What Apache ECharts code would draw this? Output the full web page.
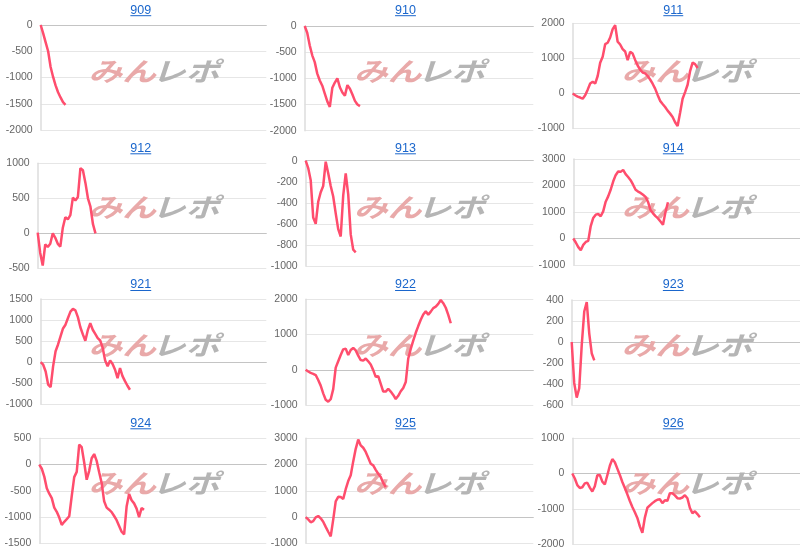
<!DOCTYPE html>
<html>
<head>
<meta charset="utf-8">
<script src="https://cdn.jsdelivr.net/npm/echarts@6/dist/echarts.min.js"></script>
<style>
html,body{margin:0;padding:0;background:#fff;}
#chart{width:800px;height:552px;}
</style>
</head>
<body>
<div id="chart"></div>
<script>
// ---- data ----
const machines = ['909','910','911','912','913','914','921','922','923','924','925','926'];
const STEPS = 91; // x-axis length (sample steps)

const s909 = [0,-160,-330,-500,-800,-990,-1150,-1280,-1380,-1470,-1520];
const s910 = [0,-130,-370,-560,-690,-910,-1040,-1140,-1290,-1440,-1545,-1180,-1080,-1000,-1170,-1270,-1330,-1130,-1200,-1310,-1430,-1500,-1530];
const s911 = [0,-50,-90,-115,-150,-50,110,285,335,285,500,880,1050,1410,1450,1600,1840,1950,1480,1400,1270,1200,950,1190,1140,960,800,680,600,575,500,400,280,140,-40,-210,-300,-385,-490,-575,-670,-820,-930,-550,-150,40,250,640,880,840,730];
const s912 = [10,-280,-460,-160,-195,-150,0,-65,-150,-190,80,230,200,260,510,470,520,930,900,720,500,380,130,0];
const s913 = [0,-70,-185,-540,-600,-390,-300,-240,-10,-120,-240,-340,-500,-650,-720,-330,-120,-320,-700,-845,-870];
const s914 = [0,-150,-325,-440,-240,-130,-90,470,775,900,925,840,1025,1390,1590,1840,2150,2390,2525,2515,2590,2430,2320,2200,2030,1840,1770,1720,1650,1570,1380,1070,950,845,760,640,520,1000,1370];
const s921 = [0,-60,-220,-530,-590,-100,260,420,610,800,890,1050,1200,1265,1230,1070,830,660,510,760,925,770,670,570,515,340,40,-95,40,-45,-180,-380,-140,-330,-450,-560,-655];
const s922 = [0,-50,-90,-115,-150,-290,-450,-670,-850,-905,-835,-550,60,240,420,580,600,420,560,620,550,400,275,260,320,240,150,-10,-200,-180,-400,-620,-620,-540,-620,-715,-830,-740,-610,-515,-350,320,590,830,1050,1240,1420,1570,1660,1560,1650,1750,1790,1870,1980,1890,1760,1560,1320];
const s923 = [0,-390,-530,-440,-30,290,380,80,-110,-175];
const s924 = [0,-80,-230,-450,-555,-640,-820,-900,-1010,-1150,-1090,-1040,-985,-600,-240,-140,380,330,40,-290,-120,120,200,70,-145,-350,-700,-820,-860,-905,-980,-1060,-1170,-1280,-1330,-800,-560,-680,-740,-840,-1000,-830,-860];
const s925 = [0,-90,-200,-155,-10,40,-50,-180,-375,-560,-735,-100,600,770,760,690,1060,1370,1590,2120,2600,2950,2730,2640,2480,2260,2030,1970,1800,1650,1525,1300,1140];
const s926 = [0,-140,-330,-410,-390,-280,-260,-400,-510,-360,-50,-40,-230,-310,-50,220,410,320,140,-40,-240,-410,-590,-780,-950,-1100,-1260,-1500,-1680,-1250,-970,-905,-840,-785,-745,-730,-840,-760,-775,-560,-560,-620,-700,-710,-680,-615,-700,-980,-1125,-1070,-1150,-1240];

const yMins = [-2000,-2000,-1000,-500,-1000,-1000,-1000,-1000,-600,-1500,-1000,-2000];
const yMaxs = [0,0,2000,1000,0,3000,1500,2000,400,500,3000,1000];
const yIntervals = [500,500,1000,500,200,1000,500,1000,200,500,1000,1000];

const allSeries = [s909,s910,s911,s912,s913,s914,s921,s922,s923,s924,s925,s926];

// ---- layout (pixels) ----
const gridLeft = [40.7,304.7,572.7, 37.7,305.7,573.3, 40.7,305.7,571.7, 39.3,305.7,572.3];
const colRight = [266.3,533.3,800];
const gridTop = [25,26,23.5, 163.3,160.7,159, 299,299.3,300, 438.3,438.3,438.3];
const gridH = [105,104.7,105, 105,105.3,106, 105.3,105.7,105, 105,105,105.7];
const titleX = [140.8,405.5,673.3];
const titleY = [10.2,148.3,285,423.3];
const wmX = [153,418.5,686];
const wmY = [71,207,345,483];

const chart = echarts.init(document.getElementById('chart'), null, {renderer:'canvas'});
const grids=[], xAxes=[], yAxes=[], series=[], graphics=[];
const measure = document.createElement('canvas').getContext('2d');
const titleFont = '12.5px Arial, "Liberation Sans", sans-serif';
measure.font = titleFont;

machines.forEach((name, p) => {
  const col = p % 3, row = Math.floor(p / 3);
  grids.push({left: gridLeft[p], top: gridTop[p], width: colRight[col] - gridLeft[p], height: gridH[p]});
  xAxes.push({
    type:'value', gridIndex:p, min:0, max:STEPS,
    axisLabel:{show:false}, axisTick:{show:false}, splitLine:{show:false},
    axisLine:{show:true, onZero:true, lineStyle:{color:'#c4c4c4', width:1}}
  });
  yAxes.push({
    type:'value', gridIndex:p, min:yMins[p], max:yMaxs[p], interval:yIntervals[p],
    axisLine:{show:true, lineStyle:{color:'#dddddd', width:1.5}},
    axisTick:{show:false},
    axisLabel:{color:'#666', fontSize:10.5, margin:8, fontFamily:'Arial, "Liberation Sans", sans-serif',
      formatter: v => String(v)},
    splitLine:{show:true, lineStyle:{color:'#e6e6e6', width:1}}
  });
  series.push({
    type:'line', xAxisIndex:p, yAxisIndex:p, showSymbol:false, silent:true, z:3,
    lineStyle:{color:'#ff4d6d', width:2.5},
    data: allSeries[p].map((v,i)=>[i,v])
  });
  // title
  const tw = measure.measureText(name).width;
  graphics.push({type:'text', x:titleX[col], y:titleY[row], z:5,
    style:{text:name, font:titleFont, fill:'#1a66cc', align:'center', verticalAlign:'middle', textAlign:'center', textVerticalAlign:'middle'}});
  graphics.push({type:'line', z:5, shape:{x1:titleX[col]-tw/2, y1:titleY[row]+5.5, x2:titleX[col]+tw/2, y2:titleY[row]+5.5},
    style:{stroke:'#1a66cc', lineWidth:1}});
  // watermark
  const wf = 'italic bold 26px "Noto Sans CJK JP", sans-serif';
  graphics.push({type:'text', x:wmX[col]+3, y:wmY[row], z:1, scaleX:1.3,
    style:{text:'みん', font:wf, fill:'#e9a9a9', align:'right', verticalAlign:'middle', textAlign:'right', textVerticalAlign:'middle'}});
  graphics.push({type:'text', x:wmX[col]-1, y:wmY[row], z:1, scaleX:1.3,
    style:{text:'レポ', font:wf, fill:'#b5b5b5', align:'left', verticalAlign:'middle', textAlign:'left', textVerticalAlign:'middle'}});
});

chart.setOption({
  animation:false,
  backgroundColor:'#ffffff',
  grid:grids, xAxis:xAxes, yAxis:yAxes, series:series,
  graphic:{elements:graphics}
});
</script>
</body>
</html>
